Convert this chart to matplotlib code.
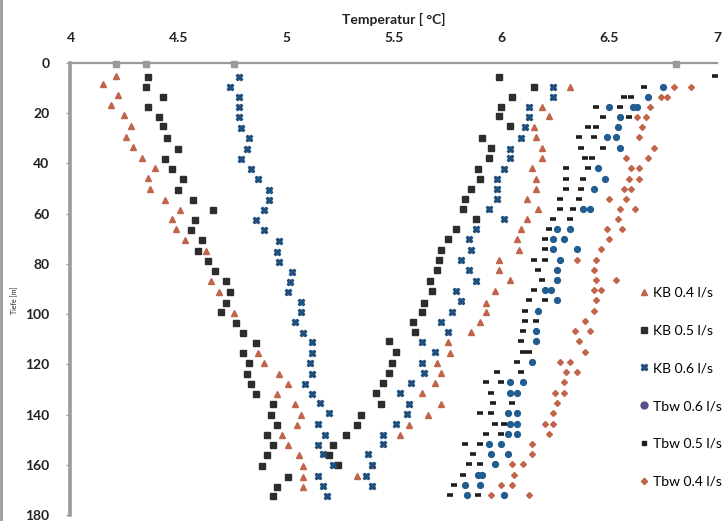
import matplotlib
matplotlib.use("Agg")
import matplotlib.pyplot as plt
from matplotlib.lines import Line2D

plt.rcParams['font.family'] = ['Lato', 'DejaVu Sans']

# ---- data (depth in m, temperature in degC) ----
kb04_down_depth = [5.1, 8.5, 12.8, 16.8, 20.7, 25, 29.4, 33.4, 37.8, 42, 45.8, 50.3, 54.4, 58.4, 62.3,
                   66.2, 70.4, 74.9, 87, 91, 99.6, 115.5, 119.6, 123.8, 127.8, 131.8, 135.8, 140.2,
                   144.2, 148.2, 152.2, 156.2, 160.4, 164.7, 168.8]
kb04_down_temp = [4.21, 4.15, 4.22, 4.19, 4.25, 4.28, 4.26, 4.29, 4.33, 4.39, 4.36, 4.37, 4.44, 4.51, 4.47,
                  4.49, 4.53, 4.63, 4.65, 4.69, 4.76, 4.87, 4.90, 4.97, 5.01, 4.96, 5.04, 5.07,
                  5.05, 4.98, 5.01, 5.06, 5.08, 5.08, 5.08]
kb04_up_depth = [9.6, 17.4, 21.1, 25.4, 29.6, 33.8, 37.8, 42, 46, 50.3, 54.3, 58.3, 62.3, 66.2, 70.2,
                 74.3, 78.5, 82.5, 86.6, 90.6, 95.4, 99.1, 103.2, 107.2, 111, 115.3, 119.3, 123.6,
                 127.4, 131.6, 135.6, 140, 144, 148, 160, 164.5]
kb04_up_temp = [6.32, 6.19, 6.22, 6.15, 6.16, 6.19, 6.19, 6.14, 6.16, 6.16, 6.12, 6.17, 6.12, 6.09, 6.07,
                6.08, 5.99, 5.99, 6.04, 5.97, 5.93, 5.93, 5.90, 5.86, 5.75, 5.76, 5.70, 5.72,
                5.69, 5.63, 5.72, 5.66, 5.57, 5.53, 5.40, 5.33]

kb05_down_depth = [5.4, 9.4, 13.4, 17.4, 21.4, 25.2, 29.7, 34.1, 38.1, 42.1, 46.1, 50.5, 54.4, 58.4,
                   62.6, 66.4, 70.4, 74.9, 78.9, 83, 87, 91, 95.6, 99.2, 103.6, 107.5, 111.5, 115.5,
                   119.6, 123.8, 127.8, 131.8, 135.8, 140.2, 144.2, 148.2, 152.2, 156.2, 160.4,
                   164.7, 168.7, 172.4]
kb05_down_temp = [4.36, 4.35, 4.43, 4.36, 4.41, 4.43, 4.45, 4.50, 4.44, 4.47, 4.52, 4.50, 4.57, 4.66,
                  4.58, 4.56, 4.61, 4.59, 4.64, 4.67, 4.72, 4.74, 4.72, 4.70, 4.77, 4.80, 4.86, 4.80,
                  4.83, 4.82, 4.84, 4.86, 4.94, 4.93, 4.96, 4.91, 4.94, 4.91, 4.89,
                  5.01, 4.96, 4.94]
kb05_up_depth = [5.6, 9.5, 13.4, 17.4, 21.1, 25.2, 29.7, 33.9, 37.9, 42.1, 46.1, 50.3, 54.3, 58.3,
                 62.3, 66.2, 70.2, 74.5, 78.5, 82.6, 86.9, 90.6, 95.4, 99.1, 103.2, 107.2, 110.9,
                 115.2, 119.4, 123.6, 127.6, 131.6, 135.6, 140.1, 144.1, 148.1, 152.1, 156, 160.2]
kb05_up_temp = [5.99, 6.15, 6.05, 6.00, 5.99, 6.04, 5.91, 5.95, 5.94, 5.89, 5.90, 5.86, 5.83, 5.82,
                5.88, 5.79, 5.75, 5.72, 5.71, 5.70, 5.67, 5.68, 5.64, 5.63, 5.59, 5.60, 5.48,
                5.51, 5.49, 5.48, 5.45, 5.42, 5.44, 5.35, 5.33, 5.28, 5.22, 5.20, 5.24]

kb06_down_depth = [5.6, 9.7, 13.7, 17.7, 21.4, 25.8, 30, 34.3, 38.3, 42.3, 46.3, 50.4, 54.7, 58.7,
                   62.7, 66.7, 71, 75.1, 79.1, 83.1, 87.1, 91, 95.2, 99.2, 103, 107.5, 111.2, 115.5,
                   119.6, 123.8, 127.8, 131.8, 135.5, 139.5, 143.8, 148, 152, 155.8, 160.2, 164.4,
                   168.4, 172.4]
kb06_down_temp = [4.78, 4.74, 4.78, 4.78, 4.78, 4.79, 4.83, 4.82, 4.79, 4.84, 4.87, 4.92, 4.92, 4.90,
                  4.86, 4.90, 4.97, 4.96, 4.97, 5.03, 5.02, 5.01, 5.07, 5.07, 5.04, 5.08, 5.12, 5.12,
                  5.11, 5.12, 5.09, 5.12, 5.16, 5.20, 5.15, 5.18, 5.15, 5.17, 5.22, 5.15,
                  5.17, 5.19]
kb06_up_depth = [9.5, 13.4, 17.7, 21.4, 25.4, 29.8, 34.1, 37.8, 42.1, 46.1, 50.3, 54.3, 58.3, 62.3,
                 66.2, 70.2, 74.5, 78.5, 82.5, 86.9, 90.6, 94.6, 99, 103.2, 107.2, 111, 115, 119.3,
                 123.6, 127.3, 131.6, 135.6, 139.8, 143.8, 148.2, 151.8, 155.8, 160, 164.4, 168.4]
kb06_up_temp = [6.24, 6.24, 6.13, 6.13, 6.11, 6.09, 6.04, 6.04, 6.01, 5.98, 5.98, 5.98, 5.94, 6.01,
                5.88, 5.85, 5.86, 5.81, 5.85, 5.88, 5.79, 5.81, 5.77, 5.72, 5.75, 5.63, 5.69, 5.63,
                5.64, 5.58, 5.53, 5.57, 5.56, 5.51, 5.45, 5.45, 5.38, 5.40, 5.37, 5.40]

tbw05_depth = [5, 9.5, 13.4, 13.4, 17.4, 17.4, 21.4, 21.4, 25.4, 25.4, 29.6, 29.6, 33.8, 33.8,
               37.8, 37.8, 42, 42, 46, 46, 50, 50, 54, 54, 58, 58, 62, 62, 66, 70, 74, 78.5, 78.5,
               82.5, 86.6, 90.2, 94.4, 94.4, 98.7, 102.8, 102.8, 106.8, 110.8, 115, 115, 119,
               123.1, 123.1, 127.2, 127.2, 131.3, 135.3, 135.3, 139.5, 139.5, 143.7, 143.7,
               147.6, 147.6, 151.8, 151.8, 155.8, 159.8, 159.8, 163.9, 168, 172.1, 172.1]
tbw05_temp = [6.99, 6.66, 6.57, 6.60, 6.44, 6.55, 6.47, 6.59, 6.40, 6.44, 6.36, 6.43, 6.37, 6.47,
              6.39, 6.42, 6.30, 6.40, 6.30, 6.38, 6.30, 6.37, 6.27, 6.36, 6.27, 6.33, 6.24, 6.32,
              6.22, 6.20, 6.20, 6.15, 6.20, 6.17, 6.19, 6.15, 6.13, 6.20, 6.11, 6.11, 6.16, 6.10,
              6.09, 6.10, 6.13, 6.07, 5.98, 6.09, 5.93, 6.00, 5.95, 5.96, 6.05, 5.90, 5.95,
              5.97, 6.01, 5.93, 6.00, 5.83, 5.90, 5.87, 5.85, 5.90, 5.82, 5.78, 5.76, 5.89]

tbw06_depth = [9.5, 13.4, 17.4, 17.4, 17.4, 21.4, 25.4, 29.6, 29.6, 33.8, 42, 46, 50, 58, 58,
               66, 66, 70, 70, 74, 74, 78.5, 82.5, 86.6, 90.2, 90.2, 94.4, 98.7, 106.8, 110.8,
               119, 127.2, 127.2, 131.3, 131.3, 139.5, 139.5, 143.7, 143.7, 147.6, 147.6,
               151.8, 151.8, 155.8, 155.8, 159.8, 163.9, 163.9, 168, 168, 172.1, 172.1]
tbw06_temp = [6.75, 6.68, 6.50, 6.61, 6.63, 6.55, 6.54, 6.49, 6.53, 6.55, 6.45, 6.48, 6.43, 6.38,
              6.41, 6.26, 6.32, 6.24, 6.29, 6.24, 6.35, 6.27, 6.26, 6.26, 6.20, 6.23, 6.26, 6.17,
              6.16, 6.16, 6.14, 6.04, 6.10, 6.04, 6.07, 6.03, 6.07, 6.04, 6.07, 6.03, 6.07,
              5.94, 6.00, 5.95, 6.03, 5.97, 5.89, 5.91, 5.83, 5.90, 5.84, 6.01]

tbw04_depth = [9.5, 9.5, 13.4, 13.4, 17.4, 21.4, 21.4, 25.4, 29.6, 33.8, 37.8, 37.8, 42, 42, 46, 46,
               50, 50, 54, 54, 58, 58, 62, 66, 66, 70, 74, 78.5, 78.5, 82.5, 86.6, 86.6, 90.2,
               90.2, 94.4, 98.7, 102.8, 106.8, 106.8, 110.8, 115, 119, 119, 123.1, 123.1, 127.2,
               131.3, 131.3, 135.3, 139.5, 143.7, 143.7, 147.6, 151.8, 155.8, 159.8, 159.8,
               163.9, 168, 168, 172.1, 172.1]
tbw04_temp = [6.80, 6.88, 6.74, 6.77, 6.69, 6.63, 6.67, 6.65, 6.64, 6.71, 6.58, 6.68, 6.60, 6.64,
              6.59, 6.64, 6.57, 6.60, 6.50, 6.58, 6.55, 6.62, 6.54, 6.49, 6.56, 6.50, 6.46, 6.35,
              6.44, 6.43, 6.44, 6.53, 6.43, 6.46, 6.44, 6.43, 6.39, 6.34, 6.41, 6.36, 6.39,
              6.27, 6.32, 6.30, 6.35, 6.29, 6.25, 6.29, 6.26, 6.24, 6.20, 6.24, 6.22, 6.14,
              6.14, 6.05, 6.10, 6.06, 6.00, 6.05, 5.95, 6.13]

# inlet / surface readings at 0 m (grey marks on the top axis)
surface_temp = [4.21, 4.35, 4.76, 6.81]

legend_labels = ["KB 0.4 l/s", "KB 0.5 l/s", "KB 0.6 l/s", "Tbw 0.6 l/s", "Tbw 0.5 l/s", "Tbw 0.4 l/s"]
xtick_vals = [4, 4.5, 5, 5.5, 6, 6.5, 7]
xtick_labels = ["4", "4.5", "5", "5.5", "6", "6.5", "7"]
ytick_vals = [0, 20, 40, 60, 80, 100, 120, 140, 160, 180]

c_orange = '#c1654a'
c_dark = '#2d2d2d'
c_blue = '#1f4f7d'
c_blue2 = '#225d92'
c_grey = '#9a9a9a'

fig = plt.figure(figsize=(7.28, 5.21), dpi=100)
ax = fig.add_axes([0.0968, 0.0115, 0.888, 0.8676])

ax.plot(kb04_down_temp, kb04_down_depth, ls='none', marker='^', ms=5, color=c_orange)
ax.plot(kb04_up_temp, kb04_up_depth, ls='none', marker='^', ms=5, color=c_orange)
ax.plot(kb05_down_temp, kb05_down_depth, ls='none', marker='s', ms=4.5, color=c_dark)
ax.plot(kb05_up_temp, kb05_up_depth, ls='none', marker='s', ms=4.5, color=c_dark)
ax.plot(kb06_down_temp, kb06_down_depth, ls='none', marker='X', ms=5, color=c_blue)
ax.plot(kb06_up_temp, kb06_up_depth, ls='none', marker='X', ms=5, color=c_blue)
ax.plot(tbw06_temp, tbw06_depth, ls='none', marker='o', ms=4.2, color=c_blue2)
ax.plot(tbw05_temp, tbw05_depth, ls='none', marker='_', ms=4.5, mew=2.6, color='#1e1e1e')
ax.plot(tbw04_temp, tbw04_depth, ls='none', marker='D', ms=3, color=c_orange)
ax.plot(surface_temp, [0.4] * len(surface_temp), ls='none', marker='s', ms=4, color=c_grey,
        clip_on=False, zorder=5)

ax.set_xlim(4, 7)
ax.set_ylim(180, 0)
ax.xaxis.tick_top()
ax.set_xticks(xtick_vals)
ax.set_xticklabels(xtick_labels)
ax.set_yticks(ytick_vals)
ax.tick_params(axis='x', length=0, pad=14, labelsize=10, labelcolor='#222222')
ax.tick_params(axis='y', length=3, width=1, color=c_grey, pad=12, labelsize=10, labelcolor='#222222')
for lab in ax.get_xticklabels() + ax.get_yticklabels():
    lab.set_fontweight('bold')

for side in ('right', 'bottom'):
    ax.spines[side].set_visible(False)
ax.spines['top'].set_color(c_grey)
ax.spines['top'].set_linewidth(1.6)
ax.spines['left'].set_color(c_grey)
ax.spines['left'].set_linewidth(2.6)

fig.text(394 / 728, 1 - 19 / 521, "Temperatur [ °C]", ha='center', va='center',
         fontsize=10, fontweight='bold', color='#222222')
fig.text(15 / 728, 1 - 300 / 521, "Tiefe [m]", rotation=90, ha='center', va='center',
         fontsize=5, color='#222222')

# scan border on the left edge
fig.add_artist(Line2D([0.002, 0.002], [0, 1], transform=fig.transFigure, color=c_grey, lw=2))

handles = [
    Line2D([], [], ls='none', marker='^', ms=5, color=c_orange),
    Line2D([], [], ls='none', marker='s', ms=4.5, color=c_dark),
    Line2D([], [], ls='none', marker='X', ms=5, color=c_blue),
    Line2D([], [], ls='none', marker='o', ms=5, color='#5a5088'),
    Line2D([], [], ls='none', marker='s', ms=3, color='#1e1e1e'),
    Line2D([], [], ls='none', marker='D', ms=3.2, color=c_orange),
]
fig.legend(handles, legend_labels, loc='upper left', bbox_to_anchor=(0.867, 0.4626),
           frameon=False, borderpad=0, labelspacing=1.85, handlelength=0.8, handletextpad=0.3,
           prop={'family': ['Lato', 'DejaVu Sans'], 'size': 10})

fig.savefig("out.png", dpi=100)
